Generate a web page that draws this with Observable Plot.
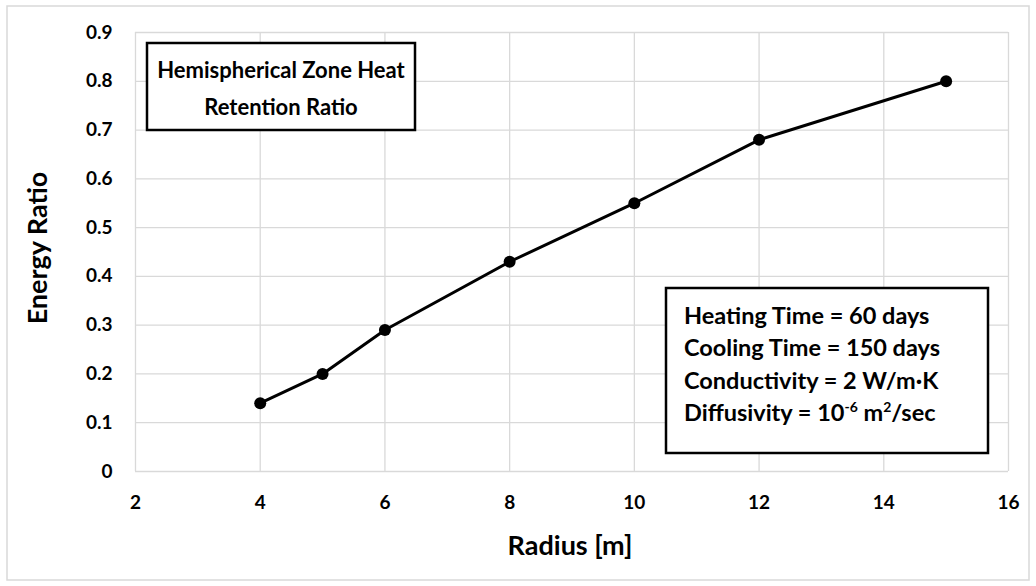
<!DOCTYPE html>
<html><head><meta charset="utf-8">
<script src="https://cdn.jsdelivr.net/npm/d3@7"></script>
<script src="https://cdn.jsdelivr.net/npm/@observablehq/plot@0.6"></script>
<style>body{margin:0;background:#fff;}</style>
</head><body><div id="chart"></div>
<script>
const radius = [4, 5, 6, 8, 10, 12, 15];
const energyRatio = [0.14, 0.20, 0.29, 0.43, 0.55, 0.68, 0.80];
const xTicks = [2, 4, 6, 8, 10, 12, 14, 16];
const yTicks = [0, 0.1, 0.2, 0.3, 0.4, 0.5, 0.6, 0.7, 0.8, 0.9];
const yTickLabels = ["0", "0.1", "0.2", "0.3", "0.4", "0.5", "0.6", "0.7", "0.8", "0.9"];
const titleLines = ["Hemispherical Zone Heat", "Retention Ratio"];
const infoLines = ["Heating Time = 60 days", "Cooling Time = 150 days", "Conductivity = 2 W/m\u00b7K"];
const xLabel = "Radius [m]";
const yLabel = "Energy Ratio";

const data = radius.map((r, i) => ({r, e: energyRatio[i]}));
const font = "Lato, 'Open Sans', sans-serif";

const plot = Plot.plot({
  width: 1036, height: 586,
  marginLeft: 135, marginRight: 28, marginTop: 32, marginBottom: 115,
  style: {fontFamily: font, fontWeight: "bold", fontSize: "19px", color: "#000", background: "#fff"},
  x: {domain: [2, 16], ticks: xTicks},
  y: {domain: [0, 0.9], ticks: yTicks},
  marks: [
    Plot.gridX(xTicks, {stroke: "#d9d9d9", strokeOpacity: 1, strokeWidth: 1.3}),
    Plot.gridY(yTicks, {stroke: "#d9d9d9", strokeOpacity: 1, strokeWidth: 1.3}),
    Plot.axisX(xTicks, {tickSize: 0, tickPadding: 24, label: null, fontSize: 19, fontWeight: "bold", tickFormat: d => String(d)}),
    Plot.axisY(yTicks, {tickSize: 0, tickPadding: 23, label: null, fontSize: 19, fontWeight: "bold",
      tickFormat: d => yTickLabels[yTicks.indexOf(d)]}),
    Plot.line(data, {x: "r", y: "e", stroke: "#000", strokeWidth: 3}),
    Plot.dot(data, {x: "r", y: "e", r: 6, fill: "#000", stroke: "none"})
  ]
});

const svg = d3.select(plot);
// outer chart border
svg.insert("rect", ":first-child").attr("x", 7).attr("y", 6).attr("width", 1022).attr("height", 574)
  .attr("fill", "none").attr("stroke", "#d9d9d9").attr("stroke-width", 1.5);

function txt(x, y, size, anchor) {
  return svg.append("text").attr("x", x).attr("y", y).attr("text-anchor", anchor)
    .attr("font-family", font).attr("font-weight", "bold").attr("font-size", size).attr("fill", "#000");
}

// axis titles
txt(570, 548, 27, "middle").attr("dominant-baseline", "middle").text(xLabel);
svg.append("text").attr("transform", "translate(40,248) rotate(-90)").attr("text-anchor", "middle").attr("dominant-baseline", "middle")
  .attr("font-family", font).attr("font-weight", "bold").attr("font-size", 27).attr("fill", "#000").text(yLabel);

// title box
svg.append("rect").attr("x", 147).attr("y", 43).attr("width", 268).attr("height", 87)
  .attr("fill", "#fff").attr("stroke", "#000").attr("stroke-width", 2.5);
titleLines.forEach((t, i) => {
  txt(281, 72 + i * 37, 22, "middle").attr("dominant-baseline", "middle").text(t);
});

// info box
svg.append("rect").attr("x", 666).attr("y", 288).attr("width", 322).attr("height", 165)
  .attr("fill", "#fff").attr("stroke", "#000").attr("stroke-width", 2.5);
infoLines.forEach((t, i) => {
  txt(684, 324 + i * 32.3, 23.5, "start").text(t);
});
const last = txt(684, 324 + 3 * 32.3, 23.5, "start");
last.append("tspan").text("Diffusivity = 10");
last.append("tspan").attr("dy", -9).attr("font-size", 14).text("-6");
last.append("tspan").attr("dy", 9).text(" m");
last.append("tspan").attr("dy", -9).attr("font-size", 14).text("2");
last.append("tspan").attr("dy", 9).text("/sec");

document.getElementById("chart").appendChild(plot);
</script>
</body></html>
